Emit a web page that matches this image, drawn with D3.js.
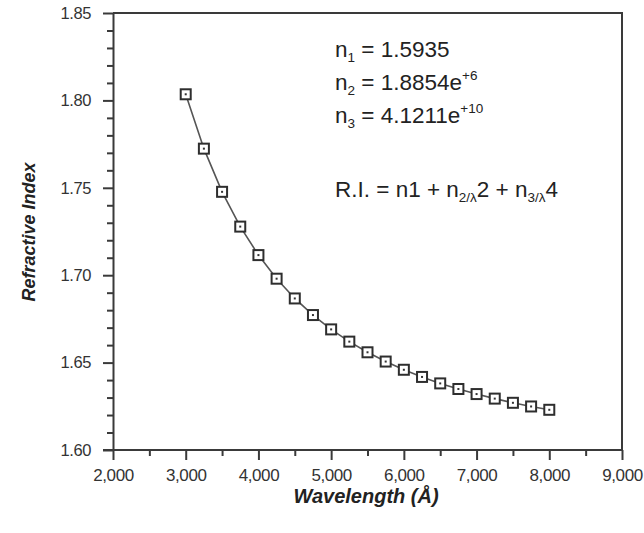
<!DOCTYPE html>
<html><head><meta charset="utf-8">
<script src="https://cdn.jsdelivr.net/npm/d3@7"></script>
<style>
body{margin:0;background:#fff}
text{font-family:"Liberation Sans",Arial,Helvetica,sans-serif}
</style>
</head><body>
<svg id="chart" width="644" height="533"></svg>
<script>
const wavelengths = [3000,3250,3500,3750,4000,4250,4500,4750,5000,5250,5500,5750,6000,6250,6500,6750,7000,7250,7500,7750,8000];
const refractiveIndex = [1.8035,1.7724,1.7477,1.7278,1.7115,1.6980,1.6867,1.6772,1.6690,1.6620,1.6559,1.6506,1.6459,1.6418,1.6381,1.6349,1.6320,1.6294,1.6270,1.6249,1.6230];
const xTicks = [2000,3000,4000,5000,6000,7000,8000,9000];
const xMinorTicks = [2500,3500,4500,5500,6500,7500,8500];
const yTicks = [1.60,1.65,1.70,1.75,1.80,1.85];
const yMinorTicks = [1.61,1.62,1.63,1.64,1.66,1.67,1.68,1.69,1.71,1.72,1.73,1.74,1.76,1.77,1.78,1.79,1.81,1.82,1.83,1.84];
const xTitle = "Wavelength (Å)";
const yTitle = "Refractive Index";

const svg = d3.select("#chart");
const L = 113, R = 622, T = 13, B = 450;
const x = d3.scaleLinear().domain([2000, 9000]).range([L, R]);
const y = d3.scaleLinear().domain([1.60, 1.85]).range([B, T]);
const axisColor = "#3a3a3a";

// frame (top & right)
svg.append("path")
  .attr("d", `M${L},${T}H${R}V${B}`)
  .attr("fill", "none").attr("stroke", axisColor).attr("stroke-width", 2);

// x axis
const gx = svg.append("g").attr("transform", `translate(0,${B})`);
gx.call(d3.axisBottom(x).tickValues(xTicks).tickSize(10).tickSizeOuter(0).tickPadding(9).tickFormat(d3.format(",")));
const gxm = svg.append("g").attr("transform", `translate(0,${B})`);
gxm.call(d3.axisBottom(x).tickValues(xMinorTicks).tickSize(6).tickFormat(""));
gxm.select(".domain").remove();
gx.select(".domain").attr("d", `M${L-10},0H${R}`);

// y axis
const gy = svg.append("g").attr("transform", `translate(${L},0)`);
gy.call(d3.axisLeft(y).tickValues(yTicks).tickSize(10).tickSizeOuter(0).tickPadding(12).tickFormat(d3.format(".2f")));
const gym = svg.append("g").attr("transform", `translate(${L},0)`);
gym.call(d3.axisLeft(y).tickValues(yMinorTicks).tickSize(6).tickFormat(""));
gym.select(".domain").remove();

[gx, gxm, gy, gym].forEach(g => {
  g.selectAll("line").attr("stroke", axisColor).attr("stroke-width", 2);
  g.selectAll(".domain").attr("stroke", axisColor).attr("stroke-width", 2);
});
gx.selectAll("text").attr("font-size", 17).attr("fill", "#333").attr("letter-spacing", "-0.4px");
gy.selectAll("text").attr("font-size", 16.5).attr("fill", "#333").attr("letter-spacing", "-0.4px");

// line
const pts = wavelengths.map((w, i) => [w, refractiveIndex[i]]);
svg.append("path").datum(pts)
  .attr("fill", "none").attr("stroke", "#555").attr("stroke-width", 1.6)
  .attr("d", d3.line().x(d => x(d[0])).y(d => y(d[1])));

// markers
const mk = svg.append("g").selectAll("g").data(pts).join("g")
  .attr("transform", d => `translate(${x(d[0])},${y(d[1])})`);
mk.append("rect").attr("x", -5).attr("y", -5).attr("width", 10).attr("height", 10)
  .attr("fill", "#fff").attr("stroke", "#2e2e2e").attr("stroke-width", 2);
mk.append("rect").attr("x", -1).attr("y", -1).attr("width", 2).attr("height", 2).attr("fill", "#333");

// axis titles
svg.append("text").attr("x", 366).attr("y", 503).attr("text-anchor", "middle")
  .attr("font-size", 20).attr("font-weight", "bold").attr("font-style", "italic").attr("fill", "#222")
  .text(xTitle);
svg.append("text").attr("transform", "translate(35,232) rotate(-90)").attr("text-anchor", "middle")
  .attr("font-size", 18).attr("font-weight", "bold").attr("font-style", "italic").attr("fill", "#222")
  .text(yTitle);

// annotations
const fs = 22.5;
function line(yPos, parts) {
  const t = svg.append("text").attr("x", 335).attr("y", yPos).attr("font-size", fs).attr("fill", "#222");
  parts.forEach(p => {
    const s = t.append("tspan").text(p.t);
    if (p.sub) s.attr("font-size", fs*0.6).attr("dy", 5);
    if (p.sup) s.attr("font-size", fs*0.6).attr("dy", -10);
    if (p.back) s.attr("dy", p.back);
  });
}
line(57, [{t:"n"},{t:"1",sub:true},{t:" = 1.5935",back:-5}]);
line(90, [{t:"n"},{t:"2",sub:true},{t:" = 1.8854e",back:-5},{t:"+6",sup:true}]);
line(123, [{t:"n"},{t:"3",sub:true},{t:" = 4.1211e",back:-5},{t:"+10",sup:true}]);
line(197, [{t:"R.I. = n1 + n"},{t:"2/λ",sub:true},{t:"2 + n",back:-5},{t:"3/λ",sub:true},{t:"4",back:-5}]);
</script>
</body></html>
